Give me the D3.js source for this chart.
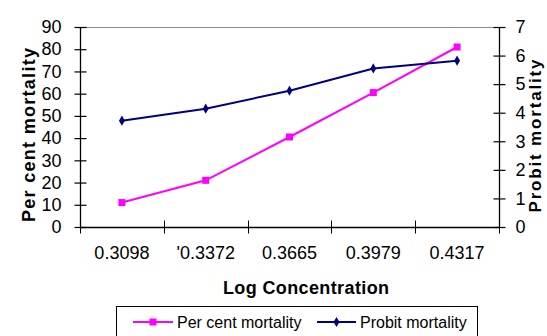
<!DOCTYPE html>
<html>
<head>
<meta charset="utf-8">
<script src="https://cdn.jsdelivr.net/npm/d3@7"></script>
<style>
  html, body { margin: 0; padding: 0; background: #fff; }
  svg { display: block; font-family: "Liberation Sans", Arial, sans-serif; }
</style>
</head>
<body>
<svg id="chart" width="547" height="336"></svg>
<script>
// Log concentration categories and the two mortality series
const categories = ["0.3098", "'0.3372", "0.3665", "0.3979", "0.4317"];
const percentMortality = [11, 21, 40.5, 60.5, 81];
const probitMortality = [3.72, 4.14, 4.77, 5.55, 5.82];
const leftTicks = [0, 10, 20, 30, 40, 50, 60, 70, 80, 90];
const rightTicks = [0, 1, 2, 3, 4, 5, 6, 7];

const svg = d3.select("#chart");
const plot = { left: 80, right: 499, top: 27, bottom: 227 };

const x = d3.scaleBand().domain(categories).range([plot.left, plot.right]);
const yLeft = d3.scaleLinear().domain([0, 90]).range([plot.bottom, plot.top]);
const yRight = d3.scaleLinear().domain([0, 7]).range([plot.bottom, plot.top]);

// plot-area frame (top edge visible in grey)
svg.append("line")
  .attr("x1", plot.left).attr("x2", plot.right)
  .attr("y1", plot.top + 0.5).attr("y2", plot.top + 0.5)
  .attr("stroke", "#8c8c8c").attr("stroke-width", 1);

// left axis with crossing tick marks
const gl = svg.append("g").attr("transform", `translate(${plot.left + 0.5},0)`)
  .call(d3.axisLeft(yLeft).tickValues(leftTicks).tickFormat(d3.format("d")).tickSize(6).tickPadding(13));
gl.selectAll(".tick line").attr("x2", 6).attr("x1", -6);
// right axis
const gr = svg.append("g").attr("transform", `translate(${plot.right + 0.5},0)`)
  .call(d3.axisRight(yRight).tickValues(rightTicks).tickFormat(d3.format("d")).tickSize(6).tickPadding(10));
gr.selectAll(".tick line").attr("x1", -6).attr("x2", 6);
// bottom axis: ticks at category boundaries, labels at centres
const gb = svg.append("g").attr("transform", `translate(0,${plot.bottom + 0.5})`)
  .call(d3.axisBottom(x).tickSize(0).tickPadding(19));
gb.selectAll(".tick line").remove();
const boundaries = categories.map(c => x(c)).concat([plot.right]);
gb.selectAll(".bnd").data(boundaries).enter().append("line")
  .attr("class", "bnd")
  .attr("x1", d => Math.round(d) + 0.5).attr("x2", d => Math.round(d) + 0.5)
  .attr("y1", -7).attr("y2", 6)
  .attr("stroke", "#000");

[gl, gr, gb].forEach(g => {
  g.selectAll(".domain").attr("stroke", "#000").attr("stroke-width", 1.3);
  g.selectAll(".tick line").attr("stroke", "#000").attr("stroke-width", 1.2);
  g.selectAll("text").attr("font-size", 18).attr("fill", "#000")
    .attr("font-family", "Liberation Sans, Arial, sans-serif");
});
gl.select(".domain").attr("d", `M0,${plot.top}V${plot.bottom}`);
gr.select(".domain").attr("d", `M0,${plot.top}V${plot.bottom}`);
gb.select(".domain").attr("d", `M${plot.left},0H${plot.right}`);
gr.selectAll("text").attr("text-anchor", "start");

// series lines
const cx = d => x(d) + x.bandwidth() / 2;
const lineL = d3.line().x((d, i) => cx(categories[i])).y(d => yLeft(d));
const lineR = d3.line().x((d, i) => cx(categories[i])).y(d => yRight(d));

svg.append("path").datum(percentMortality).attr("d", lineL)
  .attr("fill", "none").attr("stroke", "#ff00ff").attr("stroke-width", 2);
svg.append("path").datum(probitMortality).attr("d", lineR)
  .attr("fill", "none").attr("stroke", "#000080").attr("stroke-width", 2);

const square = d3.symbol().type(d3.symbolSquare).size(49);
const diamond = d3.symbol().type(d3.symbolDiamond).size(30);

svg.selectAll(".pm").data(percentMortality).enter().append("path")
  .attr("class", "pm")
  .attr("transform", (d, i) => `translate(${cx(categories[i])},${yLeft(d)})`)
  .attr("d", square).attr("fill", "#ff00ff");
svg.selectAll(".pb").data(probitMortality).enter().append("path")
  .attr("class", "pb")
  .attr("transform", (d, i) => `translate(${cx(categories[i])},${yRight(d)})`)
  .attr("d", diamond).attr("fill", "#000080");

// axis titles
svg.append("text")
  .attr("transform", "translate(35,135) rotate(-90)")
  .attr("text-anchor", "middle").attr("font-size", 18).attr("font-weight", "bold")
  .attr("textLength", 174).attr("lengthAdjust", "spacing")
  .text("Per cent mortality");
svg.append("text")
  .attr("transform", "translate(541,136) rotate(-90)")
  .attr("text-anchor", "middle").attr("font-size", 17).attr("font-weight", "bold")
  .attr("textLength", 153).attr("lengthAdjust", "spacing")
  .text("Probit mortality");
svg.append("text")
  .attr("x", 306).attr("y", 294)
  .attr("text-anchor", "middle").attr("font-size", 18).attr("font-weight", "bold")
  .attr("textLength", 166).attr("lengthAdjust", "spacing")
  .text("Log Concentration");

// legend
const legend = svg.append("g");
legend.append("rect")
  .attr("x", 116.5).attr("y", 306.5).attr("width", 361).attr("height", 40)
  .attr("fill", "#fff").attr("stroke", "#000").attr("stroke-width", 1);
const items = [
  { label: "Per cent mortality", color: "#ff00ff", sym: square, x0: 133, x1: 173, tx: 177 },
  { label: "Probit mortality", color: "#000080", sym: diamond, x0: 317, x1: 356, tx: 360 }
];
items.forEach(it => {
  legend.append("line").attr("x1", it.x0).attr("x2", it.x1)
    .attr("y1", 322).attr("y2", 322).attr("stroke", it.color).attr("stroke-width", 2);
  legend.append("path").attr("transform", `translate(${(it.x0 + it.x1) / 2},322)`)
    .attr("d", it.sym).attr("fill", it.color);
  legend.append("text").attr("x", it.tx).attr("y", 328)
    .attr("font-size", 16).attr("fill", "#000").text(it.label);
});
</script>
</body>
</html>
